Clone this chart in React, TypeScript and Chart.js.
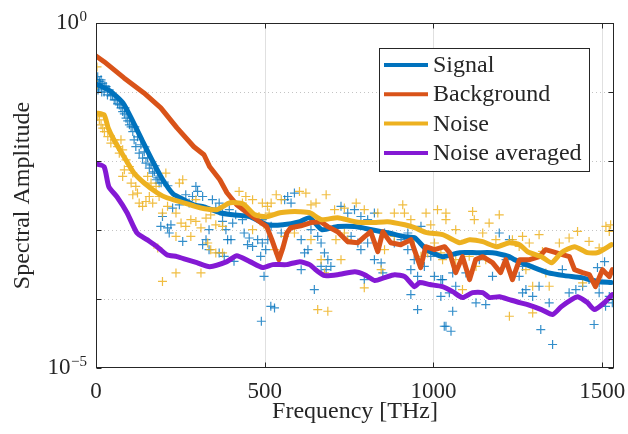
import React, { useEffect, useRef } from "react";
import { Chart, registerables } from "chart.js";

Chart.register(...registerables);

// ---------------- data ----------------
const xTicks = [0, 500, 1000, 1500];
const yTicks = [1e0, 1e-1, 1e-2, 1e-3, 1e-4, 1e-5];
const yLabelled = [
  { value: 1e0, base: "10", exp: "0" },
  { value: 1e-5, base: "10", exp: "\u22125" },
];

const signalFreq = [0, 41, 80, 110, 139, 169, 198, 228, 260, 290, 320, 367, 405, 456, 506, 554, 604, 633, 669, 716, 767, 817, 864, 915, 944, 980, 1027, 1077, 1128, 1175, 1225, 1240, 1291, 1338, 1388, 1439, 1486, 1527];
const signalAmp = [0.131, 0.104, 0.0695, 0.0369, 0.019, 0.00973, 0.00535, 0.00335, 0.00275, 0.00232, 0.00217, 0.00178, 0.00166, 0.00156, 0.00119, 0.00119, 0.00132, 0.00151, 0.00101, 0.00112, 0.00112, 0.00101, 0.000914, 0.0008, 0.000774, 0.000519, 0.000411, 0.000469, 0.000469, 0.000469, 0.000411, 0.000372, 0.000294, 0.000241, 0.000218, 0.000204, 0.000179, 0.000173];

const backgroundFreq = [0, 24, 83, 142, 192, 240, 290, 320, 337, 367, 388, 417, 456, 485, 506, 521, 542, 554, 566, 577, 607, 637, 666, 687, 716, 746, 776, 796, 814, 835, 850, 873, 903, 933, 962, 977, 1003, 1033, 1048, 1066, 1086, 1107, 1125, 1146, 1175, 1199, 1214, 1234, 1255, 1285, 1314, 1332, 1353, 1382, 1403, 1418, 1442, 1462, 1480, 1501, 1521, 1530];
const backgroundAmp = [0.333, 0.275, 0.16, 0.097, 0.0589, 0.0302, 0.0161, 0.0123, 0.00824, 0.00535, 0.00347, 0.00232, 0.00166, 0.00132, 0.00112, 0.000724, 0.000372, 0.000555, 0.000914, 0.00108, 0.00115, 0.00128, 0.00132, 0.00112, 0.000944, 0.000677, 0.000655, 0.0008, 0.000944, 0.000485, 0.000944, 0.000655, 0.000612, 0.000724, 0.000285, 0.000573, 0.000519, 0.000573, 0.000469, 0.000241, 0.000411, 0.000191, 0.000372, 0.000411, 0.000336, 0.000241, 0.000372, 0.000191, 0.000372, 0.000372, 0.000411, 0.000519, 0.000485, 0.000439, 0.000411, 0.000266, 0.000241, 0.000225, 0.000151, 0.000266, 0.000211, 0.000266];

const noiseFreq = [0, 24, 36, 53, 83, 112, 142, 181, 210, 260, 308, 358, 397, 435, 471, 506, 545, 574, 604, 633, 669, 716, 767, 817, 864, 915, 944, 980, 1027, 1077, 1107, 1146, 1187, 1225, 1255, 1279, 1320, 1350, 1379, 1418, 1456, 1486, 1527];
const noiseAmp = [0.0499, 0.0466, 0.0302, 0.0203, 0.0115, 0.00675, 0.00484, 0.00347, 0.00293, 0.00248, 0.0021, 0.00197, 0.00248, 0.0024, 0.00166, 0.00156, 0.00178, 0.00184, 0.00184, 0.00178, 0.00141, 0.00151, 0.00132, 0.00128, 0.00132, 0.00119, 0.00108, 0.000914, 0.000855, 0.000655, 0.000724, 0.000677, 0.000573, 0.000655, 0.000612, 0.000485, 0.000411, 0.000336, 0.000469, 0.000573, 0.000469, 0.000469, 0.000612];

const noiseAvgFreq = [0, 24, 38, 62, 92, 121, 151, 181, 210, 240, 269, 299, 337, 388, 417, 456, 494, 524, 565, 604, 633, 654, 678, 716, 767, 796, 826, 855, 885, 915, 944, 959, 989, 1027, 1057, 1086, 1116, 1146, 1166, 1196, 1225, 1255, 1279, 1320, 1353, 1379, 1409, 1427, 1456, 1477, 1507, 1530];
const noiseAvgAmp = [0.0091, 0.00824, 0.00424, 0.00303, 0.00178, 0.000914, 0.000724, 0.000573, 0.000439, 0.000411, 0.000372, 0.000336, 0.000294, 0.000348, 0.000425, 0.000348, 0.000285, 0.000315, 0.000315, 0.000348, 0.000315, 0.000258, 0.000218, 0.000225, 0.000249, 0.000225, 0.000185, 0.000204, 0.000225, 0.000211, 0.000151, 0.000173, 0.000162, 0.000151, 0.000128, 0.000105, 0.000124, 0.000124, 0.000105, 0.000108, 0.000098, 0.0000887, 0.000083, 0.0000703, 0.0000595, 0.0000776, 0.000098, 0.000108, 0.0000887, 0.0000703, 0.0000887, 0.000116];

const signalSampleFreq = [5, 10, 15, 20, 30, 39, 49, 59, 69, 79, 89, 99, 109, 113, 118, 128, 138, 148, 158, 168, 178, 187, 86, 115, 145, 175, 213, 6, 24,
  2, 8, 12, 17, 26, 34, 44, 54, 64, 74, 84, 94, 104, 123, 133, 143, 153, 163, 173, 183, 193,
  296, 301, 286, 266, 276, 316, 345, 365, 375, 395, 405, 414, 197, 192, 212, 222, 217, 257, 326, 316, 335, 390, 400, 365, 380, 409, 439, 454, 464, 449, 479, 493, 503, 488, 498, 490, 518, 434, 493, 375, 335, 385, 355, 247, 227,
  568, 578, 559, 588, 519, 509, 549, 608, 628, 618, 637, 657, 667, 677, 687, 667, 696, 682, 608, 647, 529, 726, 746, 766, 785, 805, 825, 756, 776, 805, 785, 825, 845, 850, 795, 855, 884, 904, 924, 943, 933, 953, 973, 992, 1003, 1022, 1022, 933, 953, 1032, 924, 963,
  1027, 1057, 1066, 1096, 1047, 1126, 1155, 1057, 1037, 1052, 1136, 1195, 1225, 1215, 1175, 1254, 1274, 1294, 1264, 1343, 1313, 1382, 1402, 1422, 1442, 1461, 1491, 1521, 1530, 1510, 1318, 1353, 1476, 1491, 1264, 1507, 1486];
const signalSampleAmp = [0.167, 0.141, 0.15, 0.134, 0.12, 0.107, 0.0908, 0.0769, 0.065, 0.052, 0.0418, 0.0334, 0.0267, 0.0203, 0.0162, 0.013, 0.011, 0.00933, 0.00789, 0.00668, 0.00535, 0.00479, 0.0589, 0.0313, 0.016, 0.00853, 0.00438, 0.107, 0.1,
  0.15, 0.115, 0.131, 0.1, 0.123, 0.0908, 0.0879, 0.0769, 0.0673, 0.0589, 0.0482, 0.0382, 0.0313, 0.0224, 0.0172, 0.0136, 0.0111, 0.00881, 0.00698, 0.00571, 0.00484,
  0.00428, 0.00362, 0.00306, 0.00324, 0.00246, 0.00306, 0.00275, 0.00246, 0.00176, 0.00197, 0.00126, 0.00166, 0.00157, 0.00113, 0.00107, 0.00119, 0.000905, 0.000684, 0.000724, 0.000612, 0.000519, 0.000724, 0.000724, 0.000465, 0.000415, 0.000352, 0.000905, 0.000766, 0.000579, 0.000612, 0.000724, 0.000648, 0.000519, 0.000415, 0.000213, 0.0000476, 0.0000784, 0.00141, 0.00141, 0.00133, 0.00101, 0.00101, 0.00208, 0.00232, 0.00208,
  0.00306, 0.00246, 0.00275, 0.00343, 0.00113, 0.000724, 0.000905, 0.000724, 0.000519, 0.000465, 0.00101, 0.000808, 0.000648, 0.000465, 0.000372, 0.000297, 0.000297, 0.000266, 0.000266, 0.000137, 0.0000743, 0.0022, 0.00176, 0.00197, 0.00157, 0.00141, 0.00176, 0.000808, 0.000648, 0.000648, 0.000519, 0.000372, 0.000333, 0.000239, 0.000191, 0.000905, 0.000648, 0.000724, 0.000519, 0.000372, 0.000266, 0.000213, 0.000297, 0.000415, 0.000213, 0.000191, 0.000109, 0.000116, 0.0000703, 0.0000403, 0.000905, 0.00113,
  0.000191, 0.000239, 0.000153, 0.000239, 0.000123, 0.0000879, 0.000083, 0.0000664, 0.0000403, 0.0000341, 0.000372, 0.000905, 0.000724, 0.000372, 0.000213, 0.000213, 0.000137, 0.000109, 0.000123, 0.0000879, 0.000153, 0.000266, 0.000123, 0.000137, 0.000153, 0.000191, 0.000123, 0.000109, 0.0000879, 0.0000784, 0.0000361, 0.0000219, 0.0000427, 0.000171, 0.000297, 0.000348, 0.000285];

const noiseSampleFreq = [3, 3, 5, 10, 15, 20, 25, 35, 44, 54, 64, 74, 79, 69, 89, 84, 79, 99, 109, 104, 118, 123, 109, 128, 138, 148, 153, 163, 178, 158, 168, 187, 207, 197, 212, 237, 247, 257, 252, 266, 281, 296, 237, 281, 311, 326, 340, 355, 375, 331, 355, 375, 340, 197, 237, 311, 183, 424, 444, 464, 493, 508, 513, 434, 454, 483, 498, 464, 296,
  534, 519, 549, 603, 622, 637, 682, 652, 707, 736, 771, 795, 835, 884, 909, 914, 933, 978, 1012, 992, 529, 559, 588, 637, 711, 736, 667, 726, 677, 845, 855, 884, 963, 983, 1003, 1022, 943, 795, 657, 687, 746,
  1037, 1037, 1066, 1116, 1121, 1165, 1195, 1146, 1185, 1234, 1264, 1313, 1284, 1254, 1323, 1373, 1402, 1427, 1461, 1491, 1511, 1525, 1521, 1066, 1106, 1126, 1155, 1274, 1333, 1343, 1294, 1442, 1225, 1294, 1086, 1027];
const noiseSampleAmp = [0.231, 0.127, 0.0441, 0.0395, 0.0334, 0.0299, 0.0267, 0.0226, 0.0182, 0.0203, 0.0162, 0.0203, 0.0145, 0.013, 0.0104, 0.00746, 0.00597, 0.00832, 0.00668, 0.00479, 0.00428, 0.00343, 0.00324, 0.00246, 0.0022, 0.00259, 0.00597, 0.00479, 0.00428, 0.00306, 0.00246, 0.00306, 0.00668, 0.00176, 0.0022, 0.00176, 0.00479, 0.00535, 0.00126, 0.00113, 0.00141, 0.00133, 0.000808, 0.000808, 0.00107, 0.00149, 0.00166, 0.00119, 0.00113, 0.000648, 0.000465, 0.000465, 0.000519, 0.00018, 0.000239, 0.000239, 0.000549, 0.00362, 0.00306, 0.00275, 0.00246, 0.0022, 0.00176, 0.00246, 0.00176, 0.00157, 0.00119, 0.00101, 0.00275,
  0.00324, 0.00246, 0.00275, 0.00362, 0.00343, 0.00232, 0.00324, 0.00246, 0.00197, 0.00208, 0.00246, 0.00197, 0.00176, 0.00176, 0.00232, 0.00176, 0.00141, 0.00176, 0.00197, 0.00119, 0.000519, 0.000808, 0.000905, 0.000724, 0.000724, 0.000905, 0.000372, 0.000372, 0.000239, 0.000266, 0.000519, 0.000808, 0.000415, 0.000465, 0.000648, 0.000465, 0.000724, 0.000145, 0.0000703, 0.0000664, 0.000724,
  0.00176, 0.00141, 0.00101, 0.00186, 0.00141, 0.00126, 0.00166, 0.000905, 0.000724, 0.000724, 0.000808, 0.000855, 0.000648, 0.000579, 0.00049, 0.000648, 0.000766, 0.000955, 0.000684, 0.000549, 0.00113, 0.00119, 0.000955, 0.000372, 0.000415, 0.000297, 0.000372, 0.000266, 0.000239, 0.000153, 0.000153, 0.000171, 0.0000562, 0.0000629, 0.000137, 0.000372];

// ---------------- styles ----------------
const BLUE = "#0072BD";
const ORANGE = "#D95319";
const YELLOW = "#EDB120";
const PURPLE = "#8419D4";
const TEXT = "#262626";
const SERIF = '"Liberation Serif", "DejaVu Serif", serif';

const pts = (f: number[], a: number[]) => f.map((x, i) => ({ x, y: a[i] }));

export default function App() {
  const ref = useRef<HTMLCanvasElement>(null);

  useEffect(() => {
    if (!ref.current) return;

    const framePlugin = {
      id: "matlabFrame",
      beforeDatasetsDraw(chart: any) {
        const { ctx, chartArea: a } = chart;
        const xs = chart.scales.x;
        const ys = chart.scales.y;
        ctx.save();
        ctx.lineWidth = 1;
        ctx.strokeStyle = "#e0e0e0";
        xTicks.forEach((v) => {
          if (v === 0) return;
          const x = Math.round(xs.getPixelForValue(v)) + 0.5;
          ctx.beginPath();
          ctx.moveTo(x, a.top);
          ctx.lineTo(x, a.bottom);
          ctx.stroke();
        });
        ctx.strokeStyle = "#c4c4c4";
        ctx.setLineDash([1, 3]);
        yTicks.forEach((v) => {
          if (v === 1 || v === 1e-5) return;
          const y = Math.round(ys.getPixelForValue(v)) + 0.5;
          ctx.beginPath();
          ctx.moveTo(a.left, y);
          ctx.lineTo(a.right, y);
          ctx.stroke();
        });
        ctx.restore();
      },
      afterDatasetsDraw(chart: any) {
        const { ctx, chartArea: a } = chart;
        const xs = chart.scales.x;
        const ys = chart.scales.y;
        const L = Math.round(a.left) + 0.5;
        const R = Math.round(a.right) - 0.5;
        const T = Math.round(a.top) + 0.5;
        const B = Math.round(a.bottom) - 0.5;
        ctx.save();
        ctx.strokeStyle = TEXT;
        ctx.lineWidth = 1;
        ctx.strokeRect(L, T, R - L, B - T);
        const tl = 5;
        ctx.beginPath();
        xTicks.forEach((v) => {
          const x = Math.round(xs.getPixelForValue(v)) + 0.5;
          ctx.moveTo(x, B);
          ctx.lineTo(x, B - tl);
          ctx.moveTo(x, T);
          ctx.lineTo(x, T + tl);
        });
        yTicks.forEach((v) => {
          const y = Math.round(ys.getPixelForValue(v)) + 0.5;
          ctx.moveTo(L, y);
          ctx.lineTo(L + tl, y);
          ctx.moveTo(R, y);
          ctx.lineTo(R - tl, y);
        });
        ctx.stroke();

        // tick labels
        ctx.fillStyle = TEXT;
        ctx.font = `23px ${SERIF}`;
        ctx.textAlign = "center";
        ctx.textBaseline = "alphabetic";
        xTicks.forEach((v) => {
          ctx.fillText(String(v), xs.getPixelForValue(v), a.bottom + 30);
        });
        yLabelled.forEach((t) => {
          const y = ys.getPixelForValue(t.value);
          ctx.font = `15px ${SERIF}`;
          ctx.textAlign = "right";
          const ew = ctx.measureText(t.exp).width;
          const right = a.left - 9;
          ctx.fillText(t.exp, right, y - 2);
          ctx.font = `23px ${SERIF}`;
          ctx.fillText(t.base, right - ew - 0.5, y + 6);
        });

        // axis titles
        ctx.font = `24px ${SERIF}`;
        ctx.textAlign = "center";
        ctx.fillText("Frequency [THz]", (a.left + a.right) / 2, 418);
        ctx.save();
        ctx.translate(29, (a.top + a.bottom) / 2);
        ctx.rotate(-Math.PI / 2);
        ctx.fillText("Spectral Amplitude", 0, 0);
        ctx.restore();

        // legend
        const entries = chart.data.datasets.filter((d: any) => d.inLegend).sort((p: any, q: any) => p.legendIndex - q.legendIndex);
        const bx = 379.5, by = 48.5, bw = 210, bh = 123;
        ctx.fillStyle = "#ffffff";
        ctx.fillRect(bx, by, bw, bh);
        ctx.strokeStyle = TEXT;
        ctx.lineWidth = 1;
        ctx.strokeRect(bx, by, bw, bh);
        ctx.font = `24px ${SERIF}`;
        ctx.textAlign = "left";
        entries.forEach((d: any, i: number) => {
          const ry = 65 + i * 29.3;
          ctx.strokeStyle = d.borderColor;
          ctx.lineWidth = 4;
          ctx.beginPath();
          ctx.moveTo(384, ry);
          ctx.lineTo(428, ry);
          ctx.stroke();
          ctx.fillStyle = TEXT;
          ctx.fillText(d.label, 433, ry + 7);
        });
        ctx.restore();
      },
    };

    const lineDs = (label: string, f: number[], v: number[], color: string, order: number, legendIndex: number, tension: number) => ({
      label,
      data: pts(f, v),
      showLine: true,
      borderColor: color,
      backgroundColor: color,
      borderWidth: 5,
      pointRadius: 0,
      tension,
      borderJoinStyle: "round",
      borderCapStyle: "round",
      order,
      inLegend: true,
      legendIndex,
    });
    const markDs = (label: string, f: number[], v: number[], color: string, order: number) => ({
      label,
      data: pts(f, v),
      showLine: false,
      pointStyle: "cross",
      pointRadius: 4.5,
      pointBorderWidth: 1.2,
      pointBorderColor: color,
      pointBackgroundColor: color,
      borderColor: color,
      order,
      inLegend: false,
    });

    const chart = new Chart(ref.current, {
      type: "scatter",
      data: {
        datasets: [
          lineDs("Noise averaged", noiseAvgFreq, noiseAvgAmp, PURPLE, 1, 3, 0.2),
          lineDs("Noise", noiseFreq, noiseAmp, YELLOW, 2, 2, 0.2),
          lineDs("Background", backgroundFreq, backgroundAmp, ORANGE, 3, 1, 0),
          lineDs("Signal", signalFreq, signalAmp, BLUE, 4, 0, 0.2),
          markDs("Noise samples", noiseSampleFreq, noiseSampleAmp, "rgba(237,177,32,0.85)", 10),
          markDs("Signal samples", signalSampleFreq, signalSampleAmp, "rgba(0,114,189,0.8)", 11),
        ] as any,
      },
      options: {
        responsive: false,
        animation: false,
        events: [],
        devicePixelRatio: 1,
        layout: { padding: { top: 23, right: 14, left: 0, bottom: 0 } },
        plugins: { legend: { display: false }, tooltip: { enabled: false } },
        scales: {
          x: {
            type: "linear",
            min: 0,
            max: 1535,
            ticks: { display: false },
            grid: { display: false },
            border: { display: false },
            afterBuildTicks: (s: any) => {
              s.ticks = xTicks.map((v) => ({ value: v }));
            },
            afterFit: (s: any) => {
              s.height = 66;
            },
          },
          y: {
            type: "logarithmic",
            min: 1e-5,
            max: 1,
            ticks: { display: false },
            grid: { display: false },
            border: { display: false },
            afterBuildTicks: (s: any) => {
              s.ticks = yTicks.map((v) => ({ value: v }));
            },
            afterFit: (s: any) => {
              s.width = 96;
            },
          },
        },
      } as any,
      plugins: [framePlugin],
    });

    return () => chart.destroy();
  }, []);

  return (
    <div style={{ position: "fixed", left: 0, top: 0, width: 628, height: 434, background: "#ffffff" }}>
      <canvas ref={ref} width={628} height={434} style={{ display: "block", width: 628, height: 434 }} />
    </div>
  );
}
